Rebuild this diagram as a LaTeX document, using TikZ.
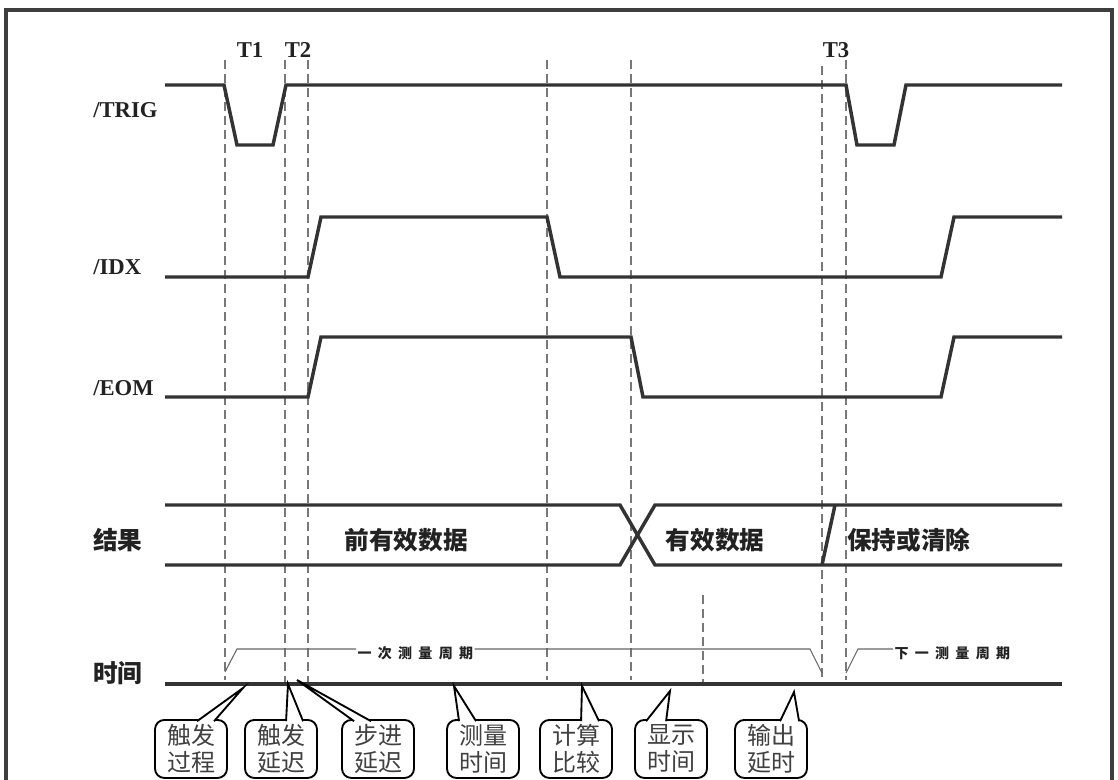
\documentclass[tikz,border=0pt]{standalone}
\usepackage{fontspec}
\setmainfont{Liberation Serif}
\newfontfamily\cjk{Noto Sans CJK SC}
\newfontfamily\cjkwide[LetterSpace=45]{Noto Sans CJK SC}
\usetikzlibrary{calc}
\definecolor{cWire}{RGB}{51,51,51}
\definecolor{cFrame}{RGB}{62,62,62}
\definecolor{cGuide}{RGB}{120,120,120}
\definecolor{cInk}{RGB}{34,34,34}
\tikzset{
	wire/.style     ={draw=cWire, line width=2.6pt, line join=miter},
	guide/.style    ={draw=cGuide, line width=0.8pt, dash pattern=on 7pt off 3.5pt},
	siglabel/.style ={anchor=west, inner sep=0pt, text=cInk, font=\fontsize{17}{17}\selectfont\bfseries},
	tlabel/.style   ={inner sep=0pt, text=cInk, font=\fontsize{17}{17}\selectfont\bfseries},
	rowlabel/.style ={anchor=west, inner sep=0pt, text=cInk, font=\cjk\fontsize{18.5}{18.5}\selectfont\bfseries},
	datatext/.style ={inner sep=0pt, text=cInk, font=\cjk\fontsize{18.5}{18.5}\selectfont\bfseries},
	% measurement cycle brackets
	cyctext/.style  ={anchor=west, inner sep=1pt, text=cInk, font=\cjkwide\fontsize{10.5}{10.5}\selectfont\bfseries},
	cycline/.style  ={draw=black!60, line width=0.8pt},
	% callout bubbles under the time axis
	bubble/.style   ={draw=black, line width=1.4pt, rounded corners=7pt, fill=white, anchor=north, minimum width=54pt, minimum height=43.5pt, align=center, inner sep=1pt, text=black!75, font=\cjk\fontsize{18}{20.25}\selectfont},
	tail/.style     ={draw=black, line width=1.4pt, fill=white, line join=miter},
}
\begin{document}
\begin{tikzpicture}[x=0.75pt, y=-0.75pt]
	\useasboundingbox (0,0) rectangle (1118,780);
	\clip (0,0) rectangle (1118,780);
	\draw[cFrame, line width=3pt] (6,10) rectangle (1112,800);
	\draw[guide] (225,60) -- (225,680) (285,60) -- (285,684) (308,60) -- (308,684) (547,60) -- (547,680)
		(631,60) -- (631,680) (703,595) -- (703,684) (822,66) -- (822,684) (846,60) -- (846,680);
	\node[tlabel] (lT1) at (250,50) {T1};
	\node[tlabel] (lT2) at (298,50) {T2};
	\node[tlabel] (lT3) at (836,50) {T3};
	\node[siglabel] (trig) at (93,110) {/TRIG};
	\node[siglabel] (idx) at (93,267) {/IDX};
	\node[siglabel] (eom) at (93,388) {/EOM};
	\node[rowlabel] (res) at (93,540) {结果};
	\node[rowlabel] (tim) at (93,673) {时间};
	\draw[wire] (165,85) -- (224,85) -- (237,145) -- (273,145) -- (286,85) -- (846,85) -- (857,145) -- (894,145) -- (906,85) -- (1062,85);
	\draw[wire] (165,277) -- (308,277) -- (321,217) -- (547,217) -- (560,277) -- (941,277) -- (954,217) -- (1062,217);
	\draw[wire] (165,397) -- (308,397) -- (321,337) -- (631,337) -- (643,397) -- (941,397) -- (954,337) -- (1062,337);
	\draw[wire] (165,505) -- (620,505) -- (655,565) -- (1062,565);
	\draw[wire] (165,565) -- (620,565) -- (655,505) -- (1062,505);
	\draw[wire] (822,565) -- (835,505);
	\draw[wire] (165,684) -- (1062,684);
	\node[datatext] (old) at (406,540) {前有效数据};
	\node[datatext] (new) at (715,540) {有效数据};
	\node[datatext, anchor=west] (hold) at (847,540) {保持或清除};
	\node[cyctext] (cyc) at (356,653) {一次测量周期};
	\node[cyctext] (nxt) at (893,653) {下一测量周期};
	\draw[cycline] (225,672) -- (237,649) -- ($(cyc.west)+(0,-4)$);
	\draw[cycline] ($(cyc.east)+(0,-4)$) -- (810,649) -- (822,673);
	\draw[cycline] (846,673) -- (858,649) -- ($(nxt.west)+(0,-4)$);
	\coordinate (p1) at (243,688); \coordinate (p2) at (288,684); \coordinate (p3) at (297,680);
	\coordinate (p4) at (454,686); \coordinate (p5) at (582,686); \coordinate (p6) at (670,691);
	\coordinate (p7) at (794,692);
	\node[bubble] (b1) at (191,719) {触发\\过程};
	\node[bubble] (b2) at (281,719) {触发\\延迟};
	\node[bubble] (b3) at (378,719) {步进\\延迟};
	\node[bubble] (b4) at (483,719) {测量\\时间};
	\node[bubble] (b5) at (576,719) {计算\\比较};
	\node[bubble] (b6) at (671,719) {显示\\时间};
	\node[bubble] (b7) at (771,719) {输出\\延时};
	\draw[tail] ($(b1.north west)+(43,2.2)$) -- (p1) -- ($(b1.north west)+(60,2.2)$);
	\draw[tail] ($(b2.north west)+(42,2.2)$) -- (p2) -- ($(b2.north west)+(59,2.2)$);
	\draw[tail] ($(b3.north west)+(13,2.2)$) -- (p3) -- ($(b3.north west)+(30,2.2)$);
	\draw[tail] ($(b4.north west)+(13,2.2)$) -- (p4) -- ($(b4.north west)+(30,2.2)$);
	\draw[tail] ($(b5.north west)+(42,2.2)$) -- (p5) -- ($(b5.north west)+(60,2.2)$);
	\draw[tail] ($(b6.north west)+(12,2.2)$) -- (p6) -- ($(b6.north west)+(32,2.2)$);
	\draw[tail] ($(b7.north west)+(46,2.2)$) -- (p7) -- ($(b7.north west)+(65,2.2)$);
\end{tikzpicture}
\end{document}
